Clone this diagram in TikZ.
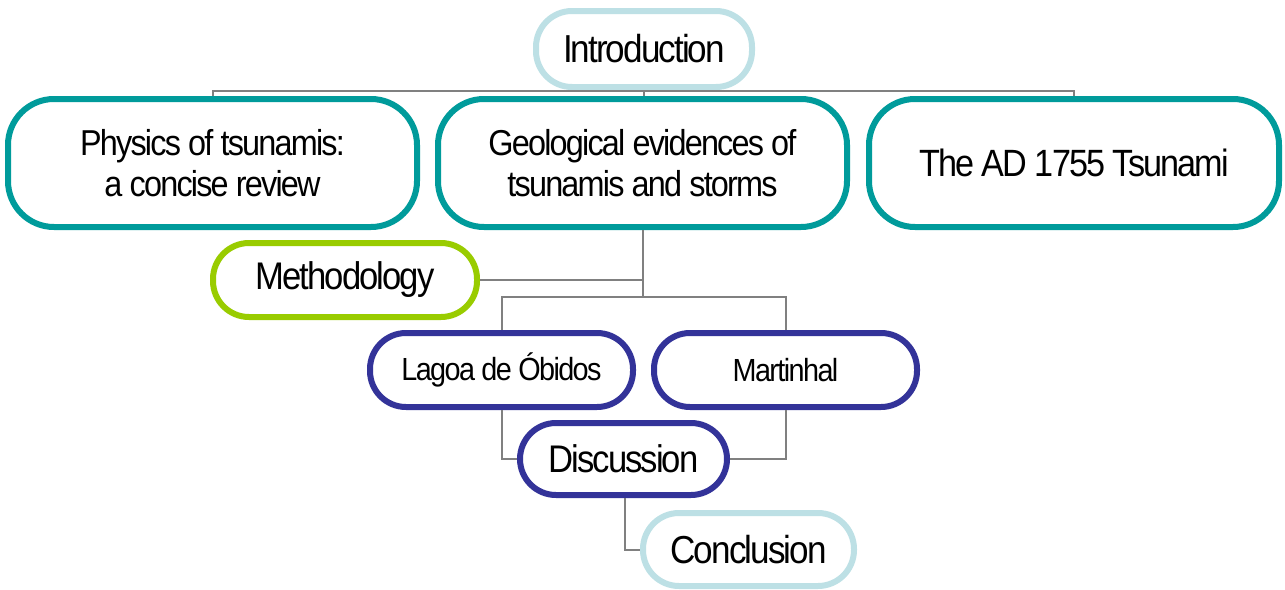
\documentclass[tikz,border=0pt]{standalone}
\usepackage{fontspec}
\setmainfont{Liberation Sans}[LetterSpace=-5,FakeStretch=0.9]
\definecolor{teal1}{RGB}{0,155,155}
\definecolor{lblue}{RGB}{189,224,229}
\definecolor{lgreen}{RGB}{153,204,0}
\definecolor{navy1}{RGB}{51,51,153}
\definecolor{gline}{RGB}{128,128,128}
\tikzset{
  box/.style={draw, line width=6pt, fill=white, rounded corners=36pt, inner sep=0pt, align=center},
  tealbox/.style={box, draw=teal1, minimum width=409pt, minimum height=128pt, rounded corners=46pt},
  smallbox/.style={box, minimum width=263pt, minimum height=74pt},
  conn/.style={draw=gline, line width=2pt},
}
\begin{document}
\begin{tikzpicture}[x=1pt,y=-1pt]
\useasboundingbox (0,0) rectangle (1285,589);
\node[box, draw=lblue, minimum width=216pt, minimum height=76pt, font=\fontsize{39}{46}\selectfont] (intro) at (644,49) {Introduction};
\node[tealbox, font=\fontsize{36}{41}\selectfont] (phys) at (212.5,163) {Physics of tsunamis:\\a concise review};
\node[tealbox, font=\fontsize{36}{41}\selectfont] (geo) at (642.5,163) {Geological evidences of\\tsunamis and storms};
\node[tealbox, minimum width=410pt, font=\fontsize{38}{45}\selectfont] (ad) at (1074,163) {The AD 1755 Tsunami};
\node[smallbox, draw=lgreen, minimum width=264pt, font=\fontsize{38.5}{45}\selectfont] (meth) at (345,280) {Methodology};
\node[smallbox, draw=navy1, font=\fontsize{32}{38}\selectfont] (lagoa) at (501.5,370) {Lagoa de Óbidos};
\node[smallbox, draw=navy1, font=\fontsize{32}{38}\selectfont] (mart) at (785.5,370) {Martinhal};
\node[box, draw=navy1, minimum width=207pt, minimum height=72pt, font=\fontsize{38.5}{45}\selectfont] (disc) at (623.5,459) {Discussion};
\node[box, draw=lblue, minimum width=211pt, minimum height=73pt, font=\fontsize{39}{46}\selectfont] (concl) at (748.5,549.5) {Conclusion};
\coordinate (b1) at (644,91);
\coordinate (b2) at (643,297);
\draw[conn] (intro.south) -- (b1);
\draw[conn] (phys.north) |- (b1) -| (ad.north);
\draw[conn] (b1) -- (b1 |- geo.north);
\draw[conn] (b2 |- geo.south) -- (b2);
\draw[conn] (meth.east) -- (b2 |- meth.east);
\draw[conn] (lagoa.north) |- (b2) -| (mart.north);
\draw[conn] (lagoa.south) |- (disc.west);
\draw[conn] (mart.south) |- (disc.east);
\draw[conn] ([xshift=1.5pt]disc.south) |- (concl.west);
\end{tikzpicture}
\end{document}
